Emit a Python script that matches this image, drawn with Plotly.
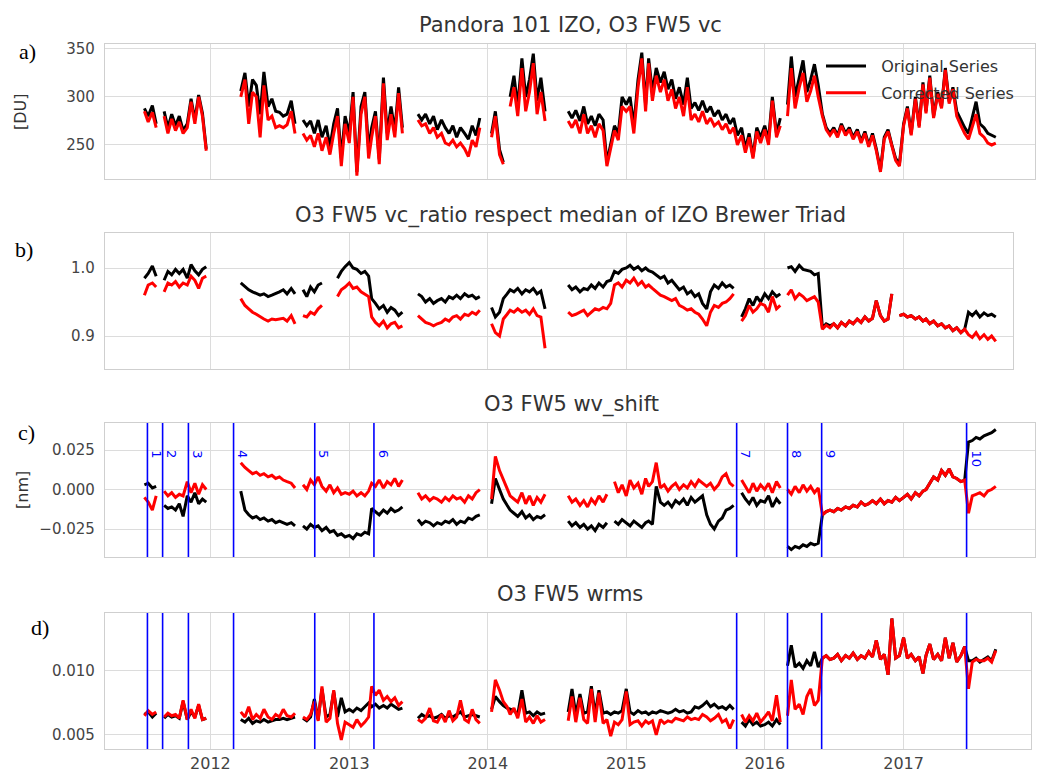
import datetime as dt
import plotly.graph_objects as go

N = None

# ---------------- data (10-day grid: 1st, 11th, 21st of each month, Jul 2011 - Sep 2017) ----------------
years_ticks = [2012, 2013, 2014, 2015, 2016, 2017]
series_names = ["Original Series", "Corrected Series"]

# panel a: total ozone [DU]
vc_orig = [
    N, 288, 280, 291, 272, N, 285, 268, 282, 270, 280, 265, 272, 298, 276, 302, 283, 246,
    N, N, N, N, N, N, N, N, 306, 325, 290, 318, 312, 282, 326, 290, 298, 285,
    284, 280, 282, 296, 272, N, 276, 270, 275, 262, 276, 258, 270, 248, 272, 288, 236, 280,
    262, 305, 222, 290, 305, 245, 268, 285, 235, 320, 262, 290, 265, 310, 268, N, N, N,
    282, 276, 282, 272, 280, 266, 276, 268, 262, 270, 258, 268, 262, 256, 270, 260, 278, N,
    N, 262, 285, 245, 232, N, 300, 322, 290, 340, 300, 318, 345, 296, 320, 285, N, N,
    N, N, N, 285, 278, 286, 275, 290, 272, 280, 270, 282, 276, 232, 252, 270, 262, 300,
    292, 300, 270, 318, 346, 292, 340, 305, 330, 315, 326, 308, 318, 298, 310, 292, 320, 288,
    294, 286, 296, 284, 290, 280, 286, 276, 282, 272, 278, 260, 268, 246, 262, 238, 268, 258,
    270, 255, 300, 262, 278, N, 292, 342, 300, 322, 338, 305, 318, 334, 312, 282, 268, 262,
    268, 260, 272, 262, 268, 258, 266, 254, 264, 250, 262, 246, 224, 258, 266, 250, 236, 230,
    272, 290, 262, 300, 270, 315, 285, 322, 280, 305, 290, 330, 295, 310, 285, 276, 268, 262,
    280, 295, 272, 268, 262, 260, 258,
]
vc_corr = [
    N, 285, 274, 284, 268, N, 280, 262, 277, 265, 274, 262, 268, 295, 272, 300, 280, 244,
    N, N, N, N, N, N, N, N, 300, 318, 272, 305, 300, 258, 312, 276, 280, 268,
    270, 268, 271, 285, 262, N, 262, 255, 260, 248, 262, 244, 258, 240, 262, 280, 228, 272,
    252, 300, 218, 282, 300, 236, 258, 280, 230, 314, 255, 282, 258, 304, 262, N, N, N,
    276, 270, 272, 262, 268, 258, 262, 252, 250, 255, 248, 252, 246, 238, 255, 248, 268, N,
    N, 258, 280, 240, 230, N, 290, 310, 280, 330, 285, 305, 335, 282, 305, 275, N, N,
    N, N, N, 275, 268, 276, 262, 282, 262, 270, 258, 272, 265, 228, 248, 265, 255, 290,
    285, 290, 262, 310, 340, 285, 335, 296, 322, 305, 318, 296, 308, 288, 300, 280, 310, 276,
    282, 274, 285, 272, 278, 270, 274, 266, 272, 262, 268, 250, 260, 242, 258, 236, 264, 252,
    266, 250, 296, 258, 270, N, 280, 330, 288, 310, 325, 295, 306, 322, 300, 280, 266, 260,
    266, 258, 270, 260, 266, 256, 264, 252, 262, 248, 260, 244, 222, 256, 264, 248, 234, 228,
    270, 288, 260, 298, 268, 313, 283, 320, 278, 303, 288, 328, 293, 308, 280, 270, 262, 256,
    270, 282, 262, 258, 252, 250, 252,
]

# panel b: ratio to Brewer triad median
ratio_orig = [
    N, 0.985, 0.992, 1.003, 0.988, N, 0.982, 0.995, 0.990, 0.998, 0.992, 0.998, 0.985, 1.005, 0.996, 0.990, 0.998, 1.002,
    N, N, N, N, N, N, N, N, 0.978, 0.972, 0.968, 0.965, 0.962, 0.960, 0.962, 0.958, 0.960, 0.962,
    0.965, 0.968, 0.962, 0.970, 0.962, N, 0.968, 0.958, 0.972, 0.965, 0.975, 0.978, N, 0.982, N, 0.985, 0.995, 1.002,
    1.008, 1.000, 0.998, 0.992, 0.995, 0.988, 0.955, 0.948, 0.940, 0.945, 0.935, 0.942, 0.938, 0.930, 0.935, N, N, N,
    0.962, 0.958, 0.950, 0.955, 0.948, 0.952, 0.955, 0.950, 0.958, 0.955, 0.960, 0.955, 0.962, 0.958, 0.960, 0.955, 0.958, N,
    N, 0.942, 0.928, 0.935, 0.955, 0.962, 0.968, 0.965, 0.970, 0.962, 0.968, 0.965, 0.970, 0.962, 0.966, 0.940, N, N,
    N, N, N, 0.975, 0.968, 0.972, 0.965, 0.970, 0.968, 0.975, 0.970, 0.978, 0.972, 0.980, 0.982, 0.995, 0.992, 0.998,
    1.000, 1.004, 0.998, 1.002, 0.996, 1.000, 0.996, 0.994, 0.990, 0.985, 0.988, 0.978, 0.982, 0.975, 0.968, 0.972, 0.962, 0.966,
    0.958, 0.962, 0.948, 0.940, 0.965, 0.975, 0.970, 0.978, 0.972, 0.975, 0.970, N, 0.928, 0.940, 0.955, 0.945, 0.958, 0.950,
    0.962, 0.955, 0.965, 0.958, 0.962, N, 1.000, 1.002, 0.995, 1.004, 0.998, 0.996, 0.995, 0.990, 0.992, 0.912, 0.918, 0.915,
    0.918, 0.912, 0.920, 0.915, 0.922, 0.918, 0.925, 0.920, 0.928, 0.922, 0.926, 0.952, 0.930, 0.922, 0.925, 0.962, N, 0.930,
    0.932, 0.928, 0.930, 0.925, 0.928, 0.922, 0.925, 0.918, 0.922, 0.915, 0.918, 0.912, 0.915, 0.908, 0.912, 0.905, 0.910, 0.935,
    0.930, 0.936, 0.928, 0.934, 0.930, 0.932, 0.928,
]
ratio_corr = [
    N, 0.960, 0.975, 0.978, 0.972, N, 0.965, 0.978, 0.975, 0.980, 0.972, 0.978, 0.975, 0.988, 0.982, 0.970, 0.985, 0.988,
    N, N, N, N, N, N, N, N, 0.955, 0.945, 0.940, 0.935, 0.932, 0.928, 0.925, 0.922, 0.925, 0.924,
    0.925, 0.926, 0.922, 0.930, 0.918, N, 0.930, 0.928, 0.935, 0.932, 0.940, 0.945, N, 0.955, N, 0.958, 0.968, 0.972,
    0.978, 0.970, 0.972, 0.965, 0.962, 0.958, 0.928, 0.920, 0.915, 0.922, 0.912, 0.918, 0.920, 0.912, 0.915, N, N, N,
    0.930, 0.925, 0.920, 0.918, 0.915, 0.918, 0.920, 0.925, 0.922, 0.928, 0.930, 0.925, 0.932, 0.930, 0.935, 0.932, 0.938, N,
    N, 0.918, 0.905, 0.900, 0.925, 0.932, 0.938, 0.935, 0.940, 0.935, 0.938, 0.932, 0.940, 0.930, 0.928, 0.882, N, N,
    N, N, N, 0.935, 0.930, 0.932, 0.935, 0.938, 0.930, 0.935, 0.940, 0.938, 0.942, 0.940, 0.948, 0.975, 0.978, 0.972,
    0.982, 0.978, 0.985, 0.975, 0.980, 0.972, 0.975, 0.970, 0.965, 0.960, 0.958, 0.955, 0.952, 0.955, 0.945, 0.942, 0.938, 0.940,
    0.935, 0.932, 0.925, 0.915, 0.935, 0.945, 0.942, 0.948, 0.950, 0.955, 0.962, N, 0.922, 0.930, 0.945, 0.935, 0.940, 0.948,
    0.945, 0.935, 0.958, 0.940, 0.945, N, 0.960, 0.968, 0.955, 0.962, 0.958, 0.952, 0.955, 0.958, 0.950, 0.910, 0.916, 0.912,
    0.918, 0.912, 0.920, 0.915, 0.922, 0.918, 0.925, 0.920, 0.928, 0.922, 0.926, 0.952, 0.930, 0.922, 0.925, 0.962, N, 0.930,
    0.932, 0.928, 0.930, 0.925, 0.928, 0.922, 0.925, 0.918, 0.922, 0.915, 0.918, 0.912, 0.915, 0.908, 0.912, 0.905, 0.910, 0.902,
    0.898, 0.905, 0.896, 0.902, 0.895, 0.900, 0.892,
]

# panel c: wavelength shift [nm]
wv_orig = [
    N, 0.003, 0.004, 0.001, 0.002, N, -0.010, -0.012, -0.011, -0.013, -0.009, -0.017, -0.004, -0.008, -0.002, -0.009, -0.006, -0.008,
    N, N, N, N, N, N, N, N, -0.001, -0.013, -0.016, -0.018, -0.017, -0.019, -0.018, -0.020, -0.019, -0.021,
    -0.020, -0.021, -0.022, -0.021, -0.023, N, -0.023, -0.025, -0.022, -0.024, -0.023, -0.026, -0.024, -0.027, -0.026, -0.029, -0.028, -0.030,
    -0.029, -0.031, -0.028, -0.029, -0.027, -0.028, -0.012, -0.014, -0.016, -0.013, -0.015, -0.012, -0.014, -0.013, -0.011, N, N, N,
    -0.019, -0.022, -0.020, -0.021, -0.023, -0.021, -0.022, -0.020, -0.021, -0.019, -0.022, -0.020, -0.021, -0.018, -0.019, -0.017, -0.016, N,
    N, -0.009, 0.007, 0.000, -0.006, -0.010, -0.013, -0.015, -0.017, -0.014, -0.018, -0.016, -0.019, -0.017, -0.018, -0.016, N, N,
    N, N, N, -0.020, -0.023, -0.021, -0.024, -0.022, -0.025, -0.023, -0.026, -0.022, -0.024, -0.021, N, -0.020, -0.022, -0.019,
    -0.021, -0.023, -0.020, -0.022, -0.024, -0.021, -0.020, -0.022, 0.002, -0.008, -0.010, -0.008, -0.011, -0.007, -0.009, -0.006, -0.010, -0.005,
    -0.008, -0.006, -0.004, -0.016, -0.022, -0.025, -0.020, -0.018, -0.013, -0.012, -0.010, N, -0.002, -0.006, -0.009, -0.005, -0.010, -0.007,
    -0.008, -0.004, -0.011, -0.006, -0.009, N, -0.036, -0.038, -0.036, -0.037, -0.035, -0.036, -0.034, -0.035, -0.034, -0.016, -0.014, -0.013,
    -0.014, -0.012, -0.013, -0.011, -0.012, -0.010, -0.011, -0.008, -0.010, -0.009, -0.007, -0.009, -0.006, -0.009, -0.007, -0.008, -0.005, -0.007,
    -0.005, -0.003, -0.006, -0.002, -0.004, -0.001, 0.000, 0.004, 0.008, 0.006, 0.012, 0.009, 0.013, 0.008, 0.007, 0.005, 0.006, 0.030,
    0.031, 0.033, 0.032, 0.034, 0.035, 0.036, 0.038,
]
wv_corr = [
    N, -0.005, -0.008, -0.013, -0.004, N, -0.001, -0.004, -0.002, -0.005, -0.003, -0.004, 0.005, -0.002, 0.004, -0.003, 0.003, 0.000,
    N, N, N, N, N, N, N, N, 0.017, 0.014, 0.012, 0.010, 0.011, 0.009, 0.010, 0.008, 0.009, 0.007,
    0.008, 0.006, 0.005, 0.004, 0.001, N, 0.003, 0.000, 0.006, 0.003, 0.008, 0.002, -0.001, 0.003, -0.002, 0.001, -0.003, -0.002,
    -0.003, -0.001, -0.004, -0.002, -0.004, -0.001, 0.004, 0.002, 0.006, 0.001, 0.005, 0.003, 0.007, 0.002, 0.006, N, N, N,
    -0.002, -0.006, -0.004, -0.007, -0.005, -0.006, -0.008, -0.005, -0.007, -0.004, -0.006, -0.005, -0.008, -0.004, -0.006, -0.002, 0.000, N,
    N, -0.006, 0.021, 0.012, 0.006, 0.000, -0.004, -0.006, -0.008, -0.002, -0.009, -0.004, -0.010, -0.005, -0.008, -0.003, N, N,
    N, N, N, -0.004, -0.008, -0.006, -0.010, -0.007, -0.011, -0.006, -0.009, -0.004, -0.008, -0.003, N, 0.005, -0.002, 0.003,
    -0.004, 0.006, 0.001, 0.004, -0.003, 0.007, 0.002, 0.005, 0.017, 0.001, 0.003, -0.001, 0.002, 0.004, 0.000, 0.003, 0.001, 0.005,
    0.002, 0.006, 0.004, 0.002, 0.004, 0.000, 0.003, 0.008, 0.010, 0.004, 0.002, N, 0.006, 0.002, -0.002, 0.004, -0.001, 0.003,
    0.000, 0.004, -0.002, 0.005, 0.001, N, 0.000, -0.003, 0.002, -0.002, 0.003, -0.001, 0.002, -0.002, 0.001, -0.016, -0.014, -0.013,
    -0.014, -0.012, -0.013, -0.011, -0.012, -0.010, -0.011, -0.008, -0.010, -0.009, -0.007, -0.009, -0.006, -0.009, -0.007, -0.008, -0.005, -0.007,
    -0.005, -0.003, -0.006, -0.002, -0.004, -0.001, 0.000, 0.004, 0.008, 0.006, 0.012, 0.009, 0.013, 0.008, 0.007, 0.005, 0.006, -0.015,
    -0.004, -0.003, -0.002, -0.004, -0.001, 0.000, 0.002,
]

# panel d: fit residual rms
wrms_orig = [
    N, 0.0066, 0.0068, 0.0064, 0.0067, N, 0.0063, 0.0066, 0.0064, 0.0065, 0.0063, 0.0076, 0.0062, 0.0068, 0.0064, 0.0073, 0.0062, 0.0063,
    N, N, N, N, N, N, N, N, 0.0062, 0.0060, 0.0063, 0.0059, 0.0061, 0.0060, 0.0062, 0.0060, 0.0061, 0.0062,
    0.0062, 0.0063, 0.0062, 0.0063, 0.0064, N, 0.0063, 0.0061, 0.0064, 0.0078, 0.0062, 0.0086, 0.0064, 0.0066, 0.0084, 0.0064, 0.0079, 0.0068,
    0.0070, 0.0068, 0.0071, 0.0069, 0.0072, 0.0075, 0.0072, 0.0074, 0.0071, 0.0073, 0.0071, 0.0074, 0.0072, 0.0070, 0.0071, N, N, N,
    0.0063, 0.0066, 0.0064, 0.0065, 0.0063, 0.0064, 0.0066, 0.0063, 0.0065, 0.0064, 0.0066, 0.0068, 0.0064, 0.0065, 0.0066, 0.0065, 0.0064, N,
    N, 0.0070, 0.0080, 0.0076, 0.0073, 0.0071, 0.0070, 0.0069, 0.0066, 0.0085, 0.0067, 0.0068, 0.0065, 0.0068, 0.0066, 0.0067, N, N,
    N, N, N, 0.0068, 0.0086, 0.0066, 0.0082, 0.0067, 0.0068, 0.0088, 0.0066, 0.0085, 0.0067, 0.0068, 0.0066, 0.0068, 0.0067, 0.0069,
    0.0086, 0.0068, 0.0066, 0.0069, 0.0067, 0.0068, 0.0066, 0.0068, 0.0067, 0.0069, 0.0068, 0.0067, 0.0068, 0.0070, 0.0068, 0.0069, 0.0067, 0.0068,
    0.0072, 0.0071, 0.0073, 0.0076, 0.0072, 0.0074, 0.0071, 0.0072, 0.0070, 0.0073, 0.0070, N, 0.0060, 0.0057, 0.0062, 0.0058, 0.0060, 0.0057,
    0.0058, 0.0060, 0.0057, 0.0062, 0.0058, N, 0.0104, 0.0120, 0.0103, 0.0106, 0.0102, 0.0108, 0.0104, 0.0115, 0.0103, 0.0110, 0.0112, 0.0109,
    0.0110, 0.0113, 0.0108, 0.0112, 0.0110, 0.0114, 0.0109, 0.0112, 0.0110, 0.0115, 0.0111, 0.0124, 0.0109, 0.0113, 0.0097, 0.0141, 0.0110, 0.0112,
    0.0126, 0.0110, 0.0113, 0.0108, 0.0111, 0.0098, 0.0112, 0.0121, 0.0109, 0.0113, 0.0108, 0.0126, 0.0110, 0.0122, 0.0107, 0.0112, 0.0119, 0.0108,
    0.0108, 0.0110, 0.0107, 0.0109, 0.0111, 0.0108, 0.0117,
]
wrms_corr = [
    N, 0.0065, 0.0069, 0.0066, 0.0068, N, 0.0064, 0.0067, 0.0065, 0.0066, 0.0063, 0.0077, 0.0062, 0.0070, 0.0063, 0.0074, 0.0062, 0.0063,
    N, N, N, N, N, N, N, N, 0.0068, 0.0064, 0.0072, 0.0062, 0.0066, 0.0063, 0.0070, 0.0064, 0.0062, 0.0066,
    0.0064, 0.0070, 0.0065, 0.0064, 0.0067, N, 0.0064, 0.0062, 0.0066, 0.0076, 0.0061, 0.0088, 0.0060, 0.0063, 0.0085, 0.0059, 0.0046, 0.0060,
    0.0058, 0.0056, 0.0062, 0.0057, 0.0060, 0.0064, 0.0088, 0.0081, 0.0085, 0.0077, 0.0080, 0.0076, 0.0079, 0.0073, 0.0076, N, N, N,
    0.0062, 0.0060, 0.0063, 0.0071, 0.0061, 0.0060, 0.0066, 0.0060, 0.0069, 0.0061, 0.0064, 0.0077, 0.0062, 0.0060, 0.0070, 0.0062, 0.0059, N,
    N, 0.0068, 0.0093, 0.0085, 0.0076, 0.0072, 0.0066, 0.0071, 0.0063, 0.0078, 0.0060, 0.0064, 0.0059, 0.0065, 0.0060, 0.0062, N, N,
    N, N, N, 0.0061, 0.0080, 0.0060, 0.0079, 0.0062, 0.0059, 0.0086, 0.0060, 0.0083, 0.0059, 0.0062, 0.0049, 0.0060, 0.0058, 0.0062,
    0.0084, 0.0058, 0.0060, 0.0061, 0.0057, 0.0061, 0.0059, 0.0061, 0.0050, 0.0062, 0.0059, 0.0061, 0.0060, 0.0063, 0.0062, 0.0061, 0.0064, 0.0062,
    0.0063, 0.0062, 0.0066, 0.0064, 0.0061, 0.0063, 0.0066, 0.0060, 0.0062, 0.0055, 0.0062, N, 0.0066, 0.0060, 0.0065, 0.0061, 0.0067, 0.0060,
    0.0064, 0.0068, 0.0061, 0.0081, 0.0060, N, 0.0065, 0.0093, 0.0070, 0.0074, 0.0066, 0.0080, 0.0086, 0.0073, 0.0077, 0.0110, 0.0112, 0.0109,
    0.0110, 0.0113, 0.0108, 0.0112, 0.0110, 0.0114, 0.0109, 0.0112, 0.0110, 0.0115, 0.0111, 0.0124, 0.0109, 0.0113, 0.0097, 0.0141, 0.0110, 0.0112,
    0.0126, 0.0110, 0.0113, 0.0108, 0.0111, 0.0098, 0.0112, 0.0121, 0.0109, 0.0113, 0.0108, 0.0126, 0.0110, 0.0122, 0.0107, 0.0112, 0.0119, 0.0086,
    0.0107, 0.0109, 0.0108, 0.0108, 0.0110, 0.0107, 0.0116,
]

# instrument change dates (blue lines) and their labels
change_dates = ["2011-07-19", "2011-08-28", "2011-11-04", "2012-03-02", "2012-10-02",
                "2013-03-07", "2015-10-19", "2016-03-01", "2016-05-30", "2017-06-16"]
change_labels = ["1", "2", "3", "4", "5", "6", "7", "8", "9", "10"]

panel_titles = ["Pandora 101 IZO, O3 FW5 vc",
                "O3 FW5 vc_ratio respect median of IZO Brewer Triad",
                "O3 FW5 wv_shift",
                "O3 FW5 wrms"]
panel_letters = ["a)", "b)", "c)", "d)"]

# ---------------- date grid ----------------
grid = []
yy, mm = 2011, 7
while (yy, mm) <= (2017, 8):
    for d in (1, 11, 21):
        grid.append(dt.date(yy, mm, d))
    mm += 1
    if mm == 13:
        yy, mm = yy + 1, 1
grid.append(dt.date(2017, 9, 1))
n = len(grid)


def fit(v):
    return (list(v) + [None] * n)[:n]


def decyear(t):
    y = int(t)
    a = dt.datetime(y, 1, 1)
    b = dt.datetime(y + 1, 1, 1)
    return a + (b - a) * (t - y)


# ---------------- geometry (pixels -> paper) ----------------
W, H = 1037, 776
L, R, T, B = 105, 2, 44, 27
PW, PH = W - L - R, H - T - B


def px(x):
    return (x - L) / PW


def py(y):
    return 1 - (y - T) / PH


# x scale: 138.6 px per year, 2012 at pixel 210.5
def x_at(pix):
    return decyear(2012 + (pix - 210.5) / 138.6)


x_left = x_at(105)
panel_px = [(44, 179, 1035), (233, 369, 1013), (423, 557, 1035), (613, 749, 1031)]

FONT = "DejaVu Sans"
fig = go.Figure()

panels = [(vc_orig, vc_corr), (ratio_orig, ratio_corr), (wv_orig, wv_corr), (wrms_orig, wrms_corr)]
for i, (o, c) in enumerate(panels):
    ax = "" if i == 0 else str(i + 1)
    fig.add_trace(go.Scatter(x=grid, y=fit(o), mode="lines", name="\u00a0\u00a0" + series_names[0],
                             line=dict(color="black", width=3), connectgaps=False,
                             xaxis="x" + ax, yaxis="y" + ax, showlegend=(i == 0),
                             legendgroup="g1"))
    fig.add_trace(go.Scatter(x=grid, y=fit(c), mode="lines", name="\u00a0\u00a0" + series_names[1],
                             line=dict(color="#ff0000", width=3), connectgaps=False,
                             xaxis="x" + ax, yaxis="y" + ax, showlegend=(i == 0),
                             legendgroup="g2"))

y_ranges = [[214.6, 355.0], [0.8515, 1.0515], [-0.0427, 0.0421], [0.0039, 0.01453]]
y_ticks = [[250, 300, 350], [0.9, 1.0], [-0.025, 0.0, 0.025], [0.005, 0.010]]
y_text = [["250", "300", "350"], ["0.9", "1.0"], ["\u22120.025", "0.000", "0.025"], ["0.005", "0.010"]]

tick_x = [dt.datetime(y, 1, 1) for y in years_ticks]
layout = dict(
    width=W, height=H,
    margin=dict(l=L, r=R, t=T, b=B, pad=0),
    paper_bgcolor="white", plot_bgcolor="white",
    font=dict(family=FONT, color="#333333"),
    showlegend=True,
    legend=dict(x=px(821), y=py(49), xanchor="left", yanchor="top",
                bgcolor="rgba(0,0,0,0)", font=dict(size=16, family=FONT, color="#333333"),
                tracegroupgap=3, itemwidth=40),
)
for i in range(4):
    ax = "" if i == 0 else str(i + 1)
    top, bot, right = panel_px[i]
    layout["xaxis" + ax] = dict(
        domain=[0, px(right)], anchor="y" + ax,
        range=[x_left, x_at(right)],
        tickvals=tick_x, ticktext=[str(y) for y in years_ticks],
        showticklabels=(i == 3), ticks="",
        tickfont=dict(size=16, family=FONT, color="#444444"),
        showgrid=True, gridcolor="#dcdcdc", gridwidth=1.3,
        showline=True, linecolor="#cfcfcf", linewidth=1.3, mirror=True,
        zeroline=False, automargin=False,
    )
    layout["yaxis" + ax] = dict(
        domain=[py(bot), py(top)], anchor="x" + ax,
        range=y_ranges[i], tickvals=y_ticks[i], ticktext=y_text[i],
        ticks="", ticklabelstandoff=6,
        tickfont=dict(size=15, family=FONT, color="#444444"),
        showgrid=True, gridcolor="#dcdcdc", gridwidth=1.3,
        showline=True, linecolor="#cfcfcf", linewidth=1.3, mirror=True,
        zeroline=False, automargin=False,
    )
fig.update_layout(**layout)

# blue instrument-change lines in panels c and d
for d in change_dates:
    for ax in ("3", "4"):
        fig.add_shape(type="line", xref="x" + ax, yref="y" + ax + " domain",
                      x0=d, x1=d, y0=0, y1=1, line=dict(color="#0000ff", width=1.6))
for d, lab in zip(change_dates, change_labels):
    fig.add_annotation(x=d, y=0.0262, xref="x3", yref="y3", text=lab, showarrow=False,
                       textangle=90, xanchor="left", yanchor="top", xshift=0,
                       font=dict(size=13, color="#0000ff", family=FONT))

# titles
title_pos = [(570, 25), (570, 215), (571, 404), (570, 594)]
for t, (x, y) in zip(panel_titles, title_pos):
    fig.add_annotation(x=px(x), y=py(y), xref="paper", yref="paper", text=t, showarrow=False,
                       xanchor="center", yanchor="middle",
                       font=dict(size=21, family=FONT, color="#333333"))

# panel letters
letter_pos = [(27, 51), (24, 250), (26, 432), (40, 627)]
for t, (x, y) in zip(panel_letters, letter_pos):
    fig.add_annotation(x=px(x), y=py(y), xref="paper", yref="paper", text=t, showarrow=False,
                       xanchor="center", yanchor="middle",
                       font=dict(size=22, family="Liberation Serif", color="black"))

# y-axis titles
for t, (x, y) in zip(["[DU]", "[nm]"], [(20, 112), (22, 490)]):
    fig.add_annotation(x=px(x), y=py(y), xref="paper", yref="paper", text=t, showarrow=False,
                       textangle=-90, xanchor="center", yanchor="middle",
                       font=dict(size=16, family=FONT, color="#333333"))

fig.write_html(
    "out.html",
    config={"displayModeBar": False},
    post_script="document.body.style.margin='0';document.body.style.overflow='hidden';",
)
